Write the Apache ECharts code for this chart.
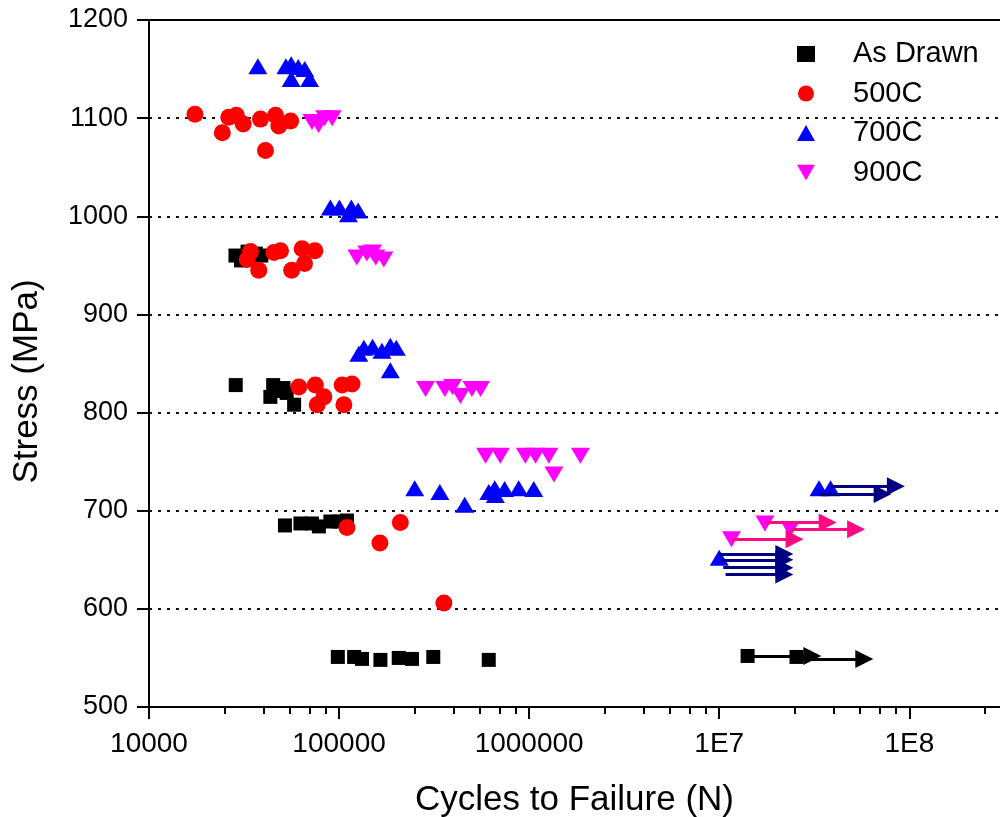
<!DOCTYPE html>
<html>
<head>
<meta charset="utf-8">
<script src="https://cdn.jsdelivr.net/npm/echarts@6/dist/echarts.min.js"></script>
<style>
  html, body { margin: 0; padding: 0; background: #ffffff; }
  #chart { width: 1000px; height: 817px; }
</style>
</head>
<body>
<div id="chart"></div>
<script>
// Fatigue data: [cycles to failure, stress in MPa]
const asDrawn = [
  [28500, 960], [30500, 955], [33000, 964], [36500, 962], [39000, 960], [34000, 956],
  [28600, 828], [43500, 816], [45000, 828], [48000, 822], [51000, 825], [53000, 820], [58000, 808],
  [51900, 685], [62600, 687], [72000, 687], [78300, 684], [90000, 689], [99700, 689], [110000, 690],
  [98500, 551], [120000, 551], [132000, 549], [165000, 548], [206000, 550], [242000, 549], [313000, 551], [613000, 548],
  [14100000, 552], [25500000, 551]
];
const c500 = [
  [17450, 1104], [24300, 1085], [26300, 1101], [28800, 1103], [31300, 1094], [38600, 1099], [41000, 1067], [46300, 1103], [48200, 1092], [55600, 1097],
  [32900, 956], [34200, 964], [37800, 945], [45400, 963], [49200, 965], [56300, 945], [63900, 967], [65800, 952], [74600, 965],
  [61400, 826], [75000, 828], [76700, 808], [83200, 816], [103800, 828], [106000, 808], [117000, 829],
  [110000, 683], [210000, 688], [164000, 667],
  [356000, 606]
];
const c700 = [
  [37400, 1153], [52500, 1153], [56000, 1155], [61000, 1152], [66000, 1150], [56000, 1140], [70000, 1140],
  [90000, 1009], [100400, 1009], [116000, 1009], [126000, 1006], [112000, 1002],
  [127000, 860], [135000, 866], [150000, 867], [168000, 863], [186000, 868], [200000, 866], [186000, 843],
  [250000, 723], [339000, 719], [458000, 706], [613000, 719], [659000, 723], [664000, 716], [743000, 722], [881000, 723], [1057000, 722],
  [33500000, 723], [38500000, 723], [10000000, 652]
];
const c900 = [
  [72000, 1096], [78000, 1093], [84000, 1100], [92000, 1100],
  [124000, 958], [140000, 962], [150000, 963], [156000, 958], [172000, 956],
  [285000, 824], [360000, 824], [395000, 826], [435000, 817], [500000, 824], [555000, 824],
  [590000, 756], [705000, 756], [955000, 756], [1080000, 756], [1270000, 756], [1860000, 756], [1350000, 737],
  [17400000, 687], [23600000, 681], [11600000, 671]
];

// Run-out specimens: start cycles, arrow end cycles, stress
const runAsDrawnFrom = [14100000, 25500000];
const runAsDrawnTo = [30900000, 58000000];
const runAsDrawnStress = [552, 549];
const run700From = [33500000, 38500000, 10100000, 10300000, 10500000, 10800000];
const run700To = [72400000, 85000000, 22000000, 22000000, 22000000, 22000000];
const run700Stress = [717, 725, 656, 650, 642, 635];
const run900From = [17400000, 23600000, 11600000];
const run900To = [37200000, 52500000, 24900000];
const run900Stress = [688, 681, 671];

// Axis ticks
const xTickValues = [1e4, 1e5, 1e6, 1e7, 1e8];
const xTickLabels = ['10000', '100000', '1000000', '1E7', '1E8'];
const xMinorFactors = [2.5, 4, 5.5, 7, 8.5];
const xMin = 1e4, xMax = 3e8;
const yMin = 500, yMax = 1200, yStep = 100;

const FONT = 'Liberation Sans, Arial, sans-serif';
const DOWN_TRIANGLE = 'path://M0,0 L20,0 L10,17 Z';

const xMinorValues = [];
xTickValues.forEach(d => xMinorFactors.forEach(f => { if (d * f < xMax) xMinorValues.push(d * f); }));

function arrows(from, to, stress) {
  return from.map((f, i) => ({ coords: [[f, stress[i]], [to[i], stress[i]]] }));
}
function labelFor(v) {
  let best = 0;
  xTickValues.forEach((t, i) => {
    if (Math.abs(Math.log10(v) - Math.log10(t)) < Math.abs(Math.log10(v) - Math.log10(xTickValues[best]))) best = i;
  });
  return xTickLabels[best];
}

const chart = echarts.init(document.getElementById('chart'), null, { renderer: 'canvas' });

const arrowSeries = (name, data, color) => ({
  name: name,
  type: 'lines',
  coordinateSystem: 'cartesian2d',
  xAxisIndex: 0,
  yAxisIndex: 0,
  polyline: false,
  silent: true,
  symbol: ['none', 'triangle'],
  symbolSize: [13, 18],
  lineStyle: { color: color, width: 3, opacity: 1, curveness: 0 },
  data: data,
  z: 5
});

chart.setOption({
  animation: false,
  backgroundColor: '#ffffff',
  textStyle: { fontFamily: FONT },
  grid: { left: 149, right: 0, top: 20, bottom: 110, containLabel: false, outerBoundsMode: 'none' },
  legend: {
    data: [
      { name: 'As Drawn' },
      { name: '500C' },
      { name: '700C' },
      { name: '900C', icon: DOWN_TRIANGLE }
    ],
    orient: 'vertical',
    left: 797,
    top: 39,
    padding: 0,
    itemWidth: 18,
    itemHeight: 16,
    itemGap: 9.5,
    textStyle: { fontSize: 29, fontFamily: FONT, color: '#000', lineHeight: 30, padding: [0, 0, 0, 33] }
  },
  xAxis: [
    {
      type: 'log', logBase: 10, min: xMin, max: xMax, position: 'bottom',
      name: 'Cycles to Failure (N)', nameLocation: 'middle', nameGap: 76,
      nameTextStyle: { fontSize: 35, fontFamily: FONT, color: '#000' },
      axisLine: { show: true, lineStyle: { color: '#000', width: 2 } },
      axisTick: { show: true, inside: false, length: 12, lineStyle: { color: '#000', width: 2 }, customValues: xTickValues },
      axisLabel: { show: true, fontSize: 28, fontFamily: FONT, color: '#000', margin: 23, customValues: xTickValues, formatter: v => labelFor(v) },
      splitLine: { show: false }
    },
    {
      type: 'log', logBase: 10, min: xMin, max: xMax, position: 'bottom',
      axisLine: { show: false },
      axisTick: { show: true, inside: false, length: 7, lineStyle: { color: '#000', width: 2 }, customValues: xMinorValues },
      axisLabel: { show: false },
      splitLine: { show: false }
    },
    {
      type: 'log', logBase: 10, min: xMin, max: xMax, position: 'top',
      axisLine: { show: true, lineStyle: { color: '#000', width: 2 } },
      axisTick: { show: false },
      axisLabel: { show: false },
      splitLine: { show: false }
    }
  ],
  yAxis: {
    type: 'value', min: yMin, max: yMax, interval: yStep,
    name: 'Stress (MPa)', nameLocation: 'middle', nameGap: 104,
    nameTextStyle: { fontSize: 35, fontFamily: FONT, color: '#000', padding: [0, 36, 0, 0] },
    axisLine: { show: true, lineStyle: { color: '#000', width: 2 } },
    axisTick: { show: true, inside: false, length: 12, lineStyle: { color: '#000', width: 2 } },
    axisLabel: { fontSize: 27, fontFamily: FONT, color: '#000', margin: 21, formatter: v => String(v) },
    splitLine: { show: true, lineStyle: { color: '#111', width: 2, type: [3, 6] } }
  },
  series: [
    { name: 'As Drawn', type: 'scatter', symbol: 'rect', symbolSize: 14, itemStyle: { color: '#000000', opacity: 1 }, data: asDrawn, z: 3 },
    { name: '500C', type: 'scatter', symbol: 'circle', symbolSize: 17, itemStyle: { color: '#ff0000', opacity: 1 }, data: c500, z: 3 },
    { name: '700C', type: 'scatter', symbol: 'triangle', symbolSize: [19, 16], itemStyle: { color: '#0000ff', opacity: 1 }, data: c700, z: 3 },
    { name: '900C', type: 'scatter', symbol: DOWN_TRIANGLE, symbolSize: [19, 16], itemStyle: { color: '#ff00ff', opacity: 1 }, data: c900, z: 3 },
    arrowSeries('As Drawn run-out', arrows(runAsDrawnFrom, runAsDrawnTo, runAsDrawnStress), '#000000'),
    arrowSeries('700C run-out', arrows(run700From, run700To, run700Stress), '#000080'),
    arrowSeries('900C run-out', arrows(run900From, run900To, run900Stress), '#ff0a85')
  ]
});
</script>
</body>
</html>
